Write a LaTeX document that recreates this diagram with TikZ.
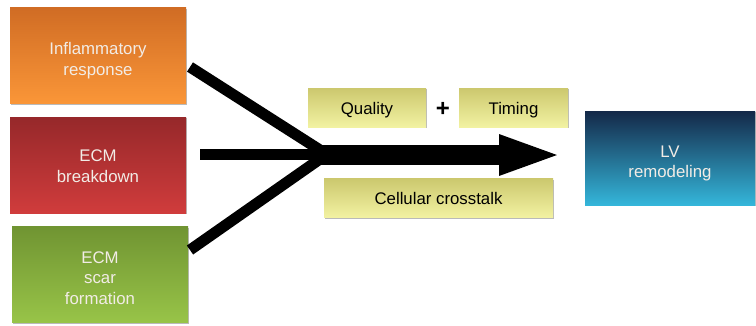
\documentclass[tikz,border=0pt]{standalone}
\usepackage{fontspec}
\setmainfont{Liberation Sans}
\usetikzlibrary{arrows.meta,shadows}
\definecolor{orTop}{RGB}{208,108,36}
\definecolor{orBot}{RGB}{250,150,56}
\definecolor{rdTop}{RGB}{150,40,42}
\definecolor{rdBot}{RGB}{208,60,60}
\definecolor{grTop}{RGB}{112,148,50}
\definecolor{grBot}{RGB}{152,196,72}
\definecolor{blTop}{RGB}{20,40,72}
\definecolor{blBot}{RGB}{52,182,218}
\definecolor{yeTop}{RGB}{204,200,110}
\definecolor{yeBot}{RGB}{242,242,162}
\definecolor{txtLight}{RGB}{242,236,230}
\tikzset{
  box/.style={rectangle, inner sep=0pt,
    drop shadow={shadow xshift=1.2pt, shadow yshift=-1.2pt, opacity=0.45, fill=black!60}},
  colbox/.style={box, minimum width=176pt, minimum height=96pt},
  yelbox/.style={box, top color=yeTop, bottom color=yeBot, minimum height=39pt},
  lighttxt/.style={inner sep=0pt, align=center, text=txtLight, font=\fontsize{16.8}{20.5}\selectfont},
  darktxt/.style={inner sep=0pt, align=center, text=black, font=\fontsize{16.8}{20.5}\selectfont},
  fat/.style={line width=11pt, black},
}
\begin{document}
\begin{tikzpicture}[x=1pt,y=-1pt]
\useasboundingbox (0,0) rectangle (756,325);
\node[colbox, top color=orTop, bottom color=orBot] (infl) at (98,55.5) {};
\node[colbox, top color=rdTop, bottom color=rdBot] (ecmb) at (98,165) {};
\node[colbox, top color=grTop, bottom color=grBot] (scar) at (100,274.5) {};
\node[colbox, top color=blTop, bottom color=blBot, minimum width=170pt, minimum height=94pt] (lv) at (670,158) {};
\node[yelbox, minimum width=118pt] (qual) at (367,107.5) {};
\node[yelbox, minimum width=109pt] (tim) at (513.5,107.5) {};
\node[yelbox, minimum width=229pt] (cell) at (438.5,198) {};
\node[lighttxt, yshift=-5pt] (inflt) at (infl) {Inflammatory\\response};
\node[lighttxt, yshift=-1pt] (ecmbt) at (ecmb) {ECM\\breakdown};
\node[lighttxt, yshift=-3.5pt] (scart) at (scar) {ECM\\scar\\formation};
\node[lighttxt, yshift=-5.5pt] (lvt) at (lv) {LV\\remodeling};
\node[darktxt, yshift=-3pt] (qualt) at (qual) {Quality};
\node[darktxt, yshift=-3pt] (timt) at (tim) {Timing};
\node[darktxt, yshift=0pt] (cellt) at (cell) {Cellular crosstalk};
\node[font=\fontsize{24}{24}\selectfont\bfseries] (plus) at (443,109) {+};
\coordinate (a1) at (190,67);
\coordinate (a2) at (200,154);
\coordinate (a3) at (190,250);
\coordinate (j1) at (320,150);
\coordinate (j2) at (320,154);
\coordinate (j3) at (320,159);
\coordinate (js) at (314,155);
\coordinate (tip) at (563,155);
\draw[fat] (a1) -- (j1);
\draw[fat] (a2) -- (j2);
\draw[fat] (a3) -- (j3);
\draw[line width=20pt, black, -{Triangle[length=64pt,width=36pt]}] (js) -- (tip);
\end{tikzpicture}
\end{document}
